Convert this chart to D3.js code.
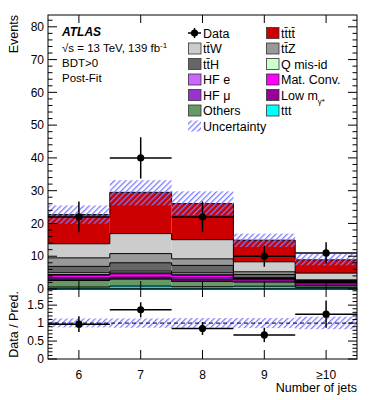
<!DOCTYPE html>
<html><head><meta charset="utf-8">
<script src="https://cdn.jsdelivr.net/npm/d3@7"></script>
<style>body{margin:0;background:#fff}svg{display:block}text{font-family:"Liberation Sans",Arial,sans-serif;fill:#000}</style>
</head><body>
<script>
const categories = ["6","7","8","9","≥10"];
// stacked components (bottom to top)
const ttt       = [0.6, 0.9, 0.7, 0.85, 0.5];
const others    = [2.0, 2.1, 1.6, 1.25, 0.5];
const lowMgamma = [0.4, 0.3, 0.5, 0.9, 0.9];
const hfMu      = [0.4, 0.3, 0.6, 0.15, 0.15];
const matConv   = [0.8, 1.05, 0.8, 0.1, 0.1];
const hfE       = [0.25, 0.3, 0.3, 0.05, 0.05];
const qMisId    = [0.5, 0.5, 0.45, 0.1, 0.1];
const ttH       = [1.95, 2.55, 2.25, 1.05, 0.3];
const ttZ       = [2.6, 2.8, 2.0, 0.8, 0.2];
const ttW       = [4.3, 6.1, 5.85, 3.05, 2.05];
const tttt      = [8.9, 12.6, 11.0, 6.6, 4.05];
const dataVals  = [22, 40, 22, 10, 11];
const dataErr   = [4.7, 6.3, 4.7, 3.2, 3.3];
const uncLow    = [19.9, 25.5, 22.5, 12.8, 7.2];
const uncHigh   = [25.5, 33.2, 29.8, 16.9, 10.7];
const ratioVals = [0.97, 1.37, 0.85, 0.67, 1.25];
const ratioErr  = [0.22, 0.21, 0.18, 0.20, 0.38];
const ratioUncLow  = [0.88, 0.87, 0.87, 0.86, 0.83];
const ratioUncHigh = [1.13, 1.13, 1.14, 1.14, 1.18];
const mainTicks  = [0,10,20,30,40,50,60,70,80];
const ratioTicks = [0,0.5,1,1.5];
const ratioTickLabels = ["0","0.5","1","1.5"];

const samples = [
  {key:"ttt", vals:ttt, color:"#00e0e0"},
  {key:"others", vals:others, color:"#669966"},
  {key:"low", vals:lowMgamma, color:"#990099"},
  {key:"hfmu", vals:hfMu, color:"#9933cc"},
  {key:"mat", vals:matConv, color:"#ff00ff"},
  {key:"hfe", vals:hfE, color:"#cc66ff"},
  {key:"qmis", vals:qMisId, color:"#ccffcc"},
  {key:"tth", vals:ttH, color:"#666666"},
  {key:"ttz", vals:ttZ, color:"#999999"},
  {key:"ttw", vals:ttW, color:"#cccccc"},
  {key:"tttt", vals:tttt, color:"#cc0000"}
];

const W=374,H=400;
const L=48,R=357,T=15,MB=289,RB=359;
const svg=d3.select("body").append("svg").attr("width",W).attr("height",H);
const defs=svg.append("defs");
const pat=defs.append("pattern").attr("id","hatch").attr("patternUnits","userSpaceOnUse")
  .attr("width",4).attr("height",4).attr("patternTransform","rotate(45)");
pat.append("rect").attr("x",0).attr("y",0).attr("width",1.3).attr("height",4).attr("fill","#7a7aff").attr("stroke","none");

const x=d3.scaleBand().domain(categories).range([L,R]).padding(0);
const y=d3.scaleLinear().domain([0,83.6]).range([MB,T]);
const yr=d3.scaleLinear().domain([0,1.95]).range([RB,MB]);
const bw=x.bandwidth();

// stack
const table=categories.map((c,i)=>{const o={cat:c};samples.forEach(s=>o[s.key]=s.vals[i]);return o;});
const stack=d3.stack().keys(samples.map(s=>s.key))(table);
const g=svg.append("g");
stack.forEach((layer,li)=>{
  g.selectAll(null).data(layer).join("rect")
    .attr("x",d=>x(d.data.cat)).attr("width",bw)
    .attr("y",d=>y(d[1])).attr("height",d=>y(d[0])-y(d[1]))
    .attr("fill",samples[li].color);
});
const stepLine=d3.line().x(d=>d[0]).y(d=>d[1]).curve(d3.curveStepAfter);
stack.forEach(layer=>{
  const pts=layer.map(d=>[x(d.data.cat),y(d[1])]);
  pts.push([R,y(layer[layer.length-1][1])]);
  g.append("path").attr("d",stepLine(pts)).attr("fill","none").attr("stroke","#000").attr("stroke-width",1);
});
// uncertainty band main
g.selectAll(null).data(categories).join("rect")
  .attr("x",d=>x(d)).attr("width",bw)
  .attr("y",(d,i)=>y(uncHigh[i])).attr("height",(d,i)=>y(uncLow[i])-y(uncHigh[i]))
  .attr("fill","url(#hatch)");

// data main
categories.forEach((c,i)=>{
  const cx=x(c)+bw/2;
  g.append("line").attr("x1",x(c)).attr("x2",x(c)+bw).attr("y1",y(dataVals[i])).attr("y2",y(dataVals[i])).attr("stroke","#000").attr("stroke-width",1.5);
  g.append("line").attr("x1",cx).attr("x2",cx).attr("y1",y(dataVals[i]-dataErr[i])).attr("y2",y(dataVals[i]+dataErr[i])).attr("stroke","#000").attr("stroke-width",1.5);
  g.append("circle").attr("cx",cx).attr("cy",y(dataVals[i])).attr("r",3.6).attr("fill","#000");
});

// ratio band and line
const gr=svg.append("g");
gr.selectAll(null).data(categories).join("rect")
  .attr("x",d=>x(d)).attr("width",bw)
  .attr("y",(d,i)=>yr(ratioUncHigh[i])).attr("height",(d,i)=>yr(ratioUncLow[i])-yr(ratioUncHigh[i]))
  .attr("fill","url(#hatch)");
gr.append("line").attr("x1",L).attr("x2",R).attr("y1",yr(1)).attr("y2",yr(1)).attr("stroke","#000").attr("stroke-width",1).attr("stroke-dasharray","4,3");
categories.forEach((c,i)=>{
  const cx=x(c)+bw/2;
  gr.append("line").attr("x1",x(c)).attr("x2",x(c)+bw).attr("y1",yr(ratioVals[i])).attr("y2",yr(ratioVals[i])).attr("stroke","#000").attr("stroke-width",1.5);
  gr.append("line").attr("x1",cx).attr("x2",cx).attr("y1",yr(ratioVals[i]-ratioErr[i])).attr("y2",yr(ratioVals[i]+ratioErr[i])).attr("stroke","#000").attr("stroke-width",1.5);
  gr.append("circle").attr("cx",cx).attr("cy",yr(ratioVals[i])).attr("r",3.6).attr("fill","#000");
});

// frames
svg.append("rect").attr("x",L).attr("y",T).attr("width",R-L).attr("height",MB-T).attr("fill","none").attr("stroke","#000").attr("stroke-width",1);
svg.append("rect").attr("x",L).attr("y",MB).attr("width",R-L).attr("height",RB-MB).attr("fill","none").attr("stroke","#000").attr("stroke-width",1);

// ticks
const tk=svg.append("g").attr("stroke","#000").attr("stroke-width",1);
function yTicks(scale,minor,major,minL,majL){
  minor.forEach(v=>{const py=scale(v);const l=major.some(m=>Math.abs(m-v)<1e-6)?majL:minL;
    tk.append("line").attr("x1",L).attr("x2",L+l).attr("y1",py).attr("y2",py);
    tk.append("line").attr("x1",R).attr("x2",R-l).attr("y1",py).attr("y2",py);});
}
yTicks(y,d3.range(0,83.6,2),mainTicks,4.5,9);
yTicks(yr,d3.range(0,1.95,0.1).map(v=>Math.round(v*10)/10),ratioTicks,4.5,9);
categories.forEach(c=>{
  const cx=x(c)+bw/2;
  tk.append("line").attr("x1",cx).attr("x2",cx).attr("y1",T).attr("y2",T+8);
  tk.append("line").attr("x1",cx).attr("x2",cx).attr("y1",MB).attr("y2",MB-8);
  tk.append("line").attr("x1",cx).attr("x2",cx).attr("y1",MB).attr("y2",MB+8);
  tk.append("line").attr("x1",cx).attr("x2",cx).attr("y1",RB).attr("y2",RB-9);
});

// tick labels
mainTicks.forEach(v=>svg.append("text").attr("x",L-4).attr("y",y(v)).attr("dy","0.35em").attr("text-anchor","end").attr("font-size",12).text(v));
ratioTicks.forEach((v,i)=>svg.append("text").attr("x",L-4).attr("y",yr(v)).attr("dy","0.35em").attr("text-anchor","end").attr("font-size",12).text(ratioTickLabels[i]));
categories.forEach(c=>svg.append("text").attr("x",x(c)+bw/2).attr("y",379).attr("text-anchor","middle").attr("font-size",12).text(c));
svg.append("text").attr("x",R).attr("y",392).attr("text-anchor","end").attr("font-size",12.5).text("Number of jets");
svg.append("text").attr("transform","translate(18,"+T+") rotate(-90)").attr("text-anchor","end").attr("font-size",12.5).text("Events");
svg.append("text").attr("transform","translate(18,291) rotate(-90)").attr("text-anchor","end").attr("font-size",12.5).text("Data / Pred.");

// ATLAS labels
svg.append("text").attr("x",62).attr("y",36).attr("font-size",12).attr("font-weight","bold").attr("font-style","italic").text("ATLAS");
const sq=svg.append("text").attr("x",62).attr("y",52).attr("font-size",11.5);
sq.append("tspan").text("√s = 13 TeV, 139 fb");
sq.append("tspan").attr("font-size",8).attr("dy",-4).text("-1");
svg.append("text").attr("x",62).attr("y",67).attr("font-size",11.5).text("BDT>0");
svg.append("text").attr("x",62).attr("y",82).attr("font-size",11.5).text("Post-Fit");

// legend
const leg=[
  {col:0,row:0,type:"data",label:"Data"},
  {col:1,row:0,color:"#cc0000",label:"tt̄tt̄"},
  {col:0,row:1,color:"#cccccc",label:"tt̄W"},
  {col:1,row:1,color:"#999999",label:"tt̄Z"},
  {col:0,row:2,color:"#666666",label:"tt̄H"},
  {col:1,row:2,color:"#ccffcc",label:"Q mis-id"},
  {col:0,row:3,color:"#cc66ff",label:"HF e"},
  {col:1,row:3,color:"#ff00ff",label:"Mat. Conv."},
  {col:0,row:4,color:"#9933cc",label:"HF μ"},
  {col:1,row:4,color:"#990099",label:"Low m",sub:"γ*"},
  {col:0,row:5,color:"#669966",label:"Others"},
  {col:1,row:5,color:"#00ffff",label:"ttt"},
  {col:0,row:6,type:"hatch",label:"Uncertainty"}
];
const colX=[188,266], rowY0=33, rowH=15.5;
leg.forEach(e=>{
  const bx=colX[e.col], cy=rowY0+e.row*rowH;
  if(e.type==="data"){
    svg.append("line").attr("x1",bx).attr("x2",bx+13).attr("y1",cy).attr("y2",cy).attr("stroke","#000").attr("stroke-width",1.5);
    svg.append("line").attr("x1",bx+6.5).attr("x2",bx+6.5).attr("y1",cy-5).attr("y2",cy+5).attr("stroke","#000").attr("stroke-width",1.5);
    svg.append("circle").attr("cx",bx+6.5).attr("cy",cy).attr("r",3.6).attr("fill","#000");
  } else if(e.type==="hatch"){
    svg.append("rect").attr("x",bx).attr("y",cy-5.5).attr("width",13).attr("height",11).attr("fill","url(#hatch)");
  } else {
    svg.append("rect").attr("x",bx+0.5).attr("y",cy-5.5).attr("width",12.5).attr("height",11).attr("fill",e.color).attr("stroke","#333").attr("stroke-width",0.8);
  }
  const t=svg.append("text").attr("x",bx+15).attr("y",cy).attr("dy","0.36em").attr("font-size",12.5);
  t.append("tspan").text(e.label);
  if(e.sub){t.append("tspan").attr("font-size",8).attr("dy",4).text(e.sub);}
});
</script>
</body></html>
